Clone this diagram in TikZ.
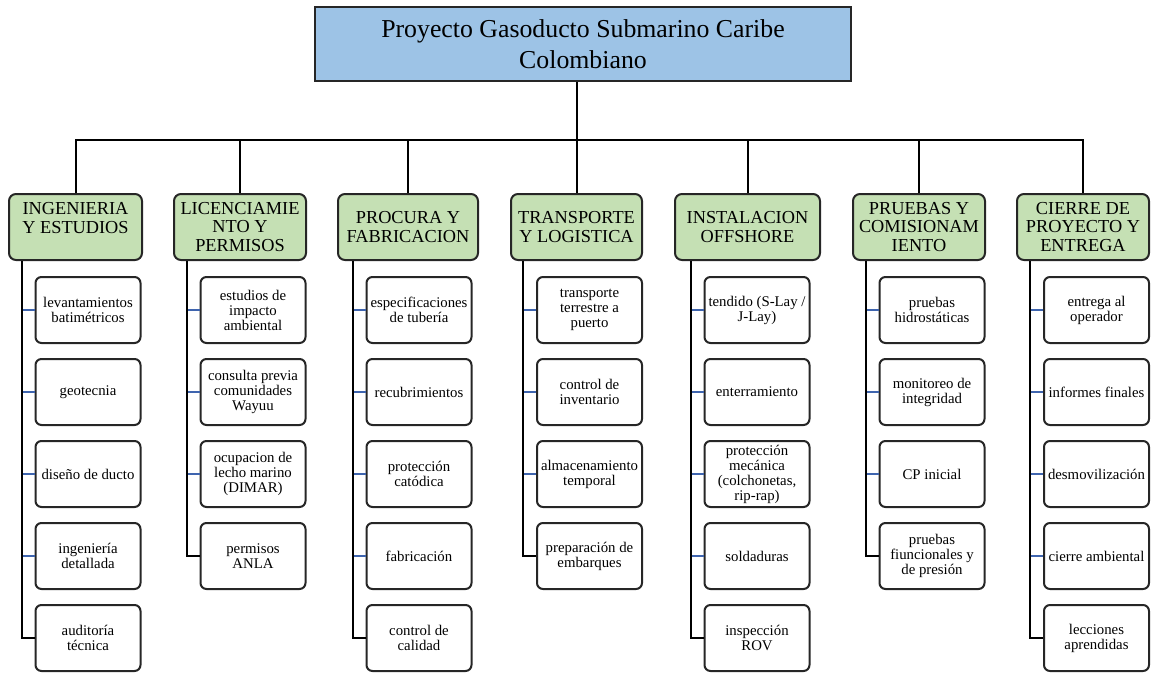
\documentclass[tikz,border=0pt]{standalone}
\usepackage{fontspec}
\setmainfont{Liberation Serif}
\definecolor{topfill}{HTML}{9DC3E6}
\definecolor{hdrfill}{HTML}{C5E0B4}
\definecolor{edge}{HTML}{262626}
\definecolor{tickblue}{HTML}{3E64AE}

\begin{document}
\begin{tikzpicture}[x=1pt,y=-1pt,
  topbox/.style={draw=edge, line width=1.5pt, fill=topfill, minimum width=536pt,
    minimum height=74pt, align=center, font=\fontsize{25.8}{31}\selectfont, inner sep=0pt},
  hdr/.style={draw=edge, line width=2pt, fill=hdrfill, rounded corners=7pt,
    minimum height=66pt, align=center, font=\fontsize{18.3}{18.5}\selectfont, inner sep=0pt},
  leaf/.style={draw=edge, line width=2pt, fill=white, rounded corners=6pt,
    minimum width=105pt, minimum height=66pt, align=center,
    font=\fontsize{14.8}{15}\selectfont, inner sep=0pt},
  link/.style={draw=black, line width=2pt},
  tick/.style={draw=tickblue, line width=2pt},
]
\useasboundingbox (0,0) rectangle (1151,672);

% root
\node[topbox] (top) at (583,44) {Proyecto Gasoducto Submarino Caribe\\Colombiano};

% work packages
\node[hdr, minimum width=133pt] (h1) at (75.5,227) {INGENIERIA\\Y ESTUDIOS\\~};
\node[hdr, minimum width=132pt] (h2) at (240,227) {LICENCIAMIE\\NTO Y\\PERMISOS};
\node[hdr, minimum width=140pt] (h3) at (408,227) {PROCURA Y\\FABRICACION};
\node[hdr, minimum width=131pt] (h4) at (576.5,227) {TRANSPORTE\\Y LOGISTICA};
\node[hdr, minimum width=145pt] (h5) at (747.5,227) {INSTALACION\\OFFSHORE};
\node[hdr, minimum width=132pt] (h6) at (919,227) {PRUEBAS Y\\COMISIONAM\\IENTO};
\node[hdr, minimum width=132pt] (h7) at (1083,227) {CIERRE DE\\PROYECTO Y\\ENTREGA};

% activities
\node[leaf] (c1-1) at (88,310) {levantamientos\\batimétricos};
\node[leaf] (c1-2) at (88,392) {geotecnia};
\node[leaf] (c1-3) at (88,474) {diseño de ducto};
\node[leaf] (c1-4) at (88,556) {ingeniería\\detallada};
\node[leaf] (c1-5) at (88,638) {auditoría\\técnica};

\node[leaf] (c2-1) at (253,310) {estudios de\\impacto\\ambiental};
\node[leaf] (c2-2) at (253,392) {consulta previa\\comunidades\\Wayuu};
\node[leaf] (c2-3) at (253,474) {ocupacion de\\lecho marino\\(DIMAR)};
\node[leaf] (c2-4) at (253,556) {permisos\\ANLA};

\node[leaf] (c3-1) at (419,310) {especificaciones\\de tubería};
\node[leaf] (c3-2) at (419,392) {recubrimientos};
\node[leaf] (c3-3) at (419,474) {protección\\catódica};
\node[leaf] (c3-4) at (419,556) {fabricación};
\node[leaf] (c3-5) at (419,638) {control de\\calidad};

\node[leaf] (c4-1) at (589.5,310) {transporte\\terrestre a\\puerto};
\node[leaf] (c4-2) at (589.5,392) {control de\\inventario};
\node[leaf] (c4-3) at (589.5,474) {almacenamiento\\temporal};
\node[leaf] (c4-4) at (589.5,556) {preparación de\\embarques};

\node[leaf] (c5-1) at (757,310) {tendido (S-Lay /\\J-Lay)};
\node[leaf] (c5-2) at (757,392) {enterramiento};
\node[leaf] (c5-3) at (757,474) {protección\\mecánica\\(colchonetas,\\rip-rap)};
\node[leaf] (c5-4) at (757,556) {soldaduras};
\node[leaf] (c5-5) at (757,638) {inspección\\ROV};

\node[leaf] (c6-1) at (932,310) {pruebas\\hidrostáticas};
\node[leaf] (c6-2) at (932,392) {monitoreo de\\integridad};
\node[leaf] (c6-3) at (932,474) {CP inicial};
\node[leaf] (c6-4) at (932,556) {pruebas\\fiuncionales y\\de presión};

\node[leaf] (c7-1) at (1096.5,310) {entrega al\\operador};
\node[leaf] (c7-2) at (1096.5,392) {informes finales};
\node[leaf] (c7-3) at (1096.5,474) {desmovilización};
\node[leaf] (c7-4) at (1096.5,556) {cierre ambiental};
\node[leaf] (c7-5) at (1096.5,638) {lecciones\\aprendidas};

% trunk and bus
\coordinate (bus) at (0,140);
\draw[link] (top.south -| h4.north) -- (h4.north);
\draw[link] (h1.north) -- (h1.north |- bus) -- (h7.north |- bus) -- (h7.north);
\foreach \k in {2,3,5,6} \draw[link] (h\k.north) -- (h\k.north |- bus);

% spines with side ticks
\foreach \k/\n in {1/5,2/4,3/5,4/4,5/5,6/4,7/5} {
  \coordinate (v\k) at ([xshift=-13pt]c\k-1.west);
  \pgfmathtruncatemacro{\m}{\n-1}
  \foreach \i in {1,...,\m} \draw[tick] (c\k-\i.west) -- (c\k-\i.west -| v\k);
  \draw[link] (v\k |- h\k.south) |- (c\k-\n.west);
}
\end{tikzpicture}
\end{document}
